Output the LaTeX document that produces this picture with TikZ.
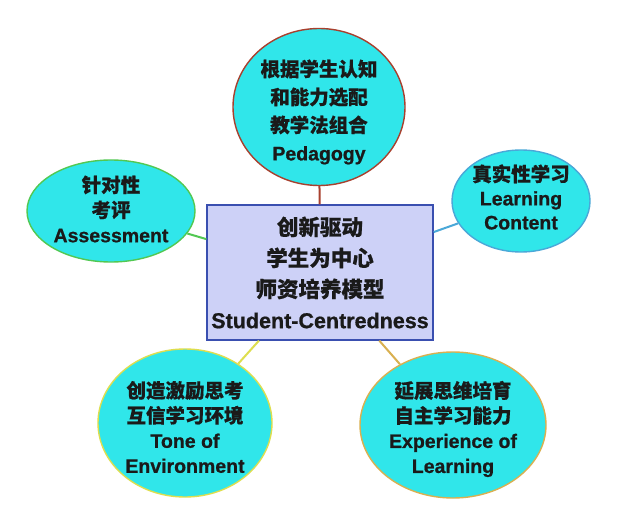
\documentclass[tikz,border=0pt]{standalone}
\usepackage{fontspec}
\setmainfont{Liberation Sans}[BoldFeatures={FakeBold=0.8}]
\newfontfamily\cjk{Noto Sans CJK SC}[BoldFeatures={FakeBold=0.6}]
\usetikzlibrary{shapes.geometric}
\newcommand{\zh}[1]{{\cjk\bfseries #1}}
\definecolor{cyanfill}{HTML}{30E6EA}
\definecolor{ctrfill}{HTML}{CDD1F7}
\definecolor{ctrdraw}{HTML}{3A4FB0}
\definecolor{pedc}{HTML}{A8402E}
\definecolor{asmc}{HTML}{52C852}
\definecolor{lrnc}{HTML}{4AA8D8}
\definecolor{tonc}{HTML}{DEDE4E}
\definecolor{expc}{HTML}{D9B050}
\definecolor{txt}{HTML}{1A1A1A}
\tikzset{
  bubble/.style={ellipse, fill=cyanfill, line width=1.4pt, inner sep=0pt},
  btext/.style={align=center, text=txt, inner sep=0pt, font=\fontsize{19.5}{25}\selectfont\bfseries},
  centerbox/.style={rectangle, fill=ctrfill, draw=ctrdraw, line width=1.3pt,
    minimum width=226pt, minimum height=135pt, inner sep=0pt,
    align=center, text=txt, font=\fontsize{21.5}{31}\selectfont\bfseries},
  link/.style={line width=2pt}
}
\begin{document}
\begin{tikzpicture}[x=1pt,y=-1pt]
\useasboundingbox[fill=white] (0,0) rectangle (620,529);
\node[centerbox] (ctr) at (320,272.5) {\zh{创新驱动}\\ \zh{学生为中心}\\ \zh{师资培养模型}\\ Student-Centredness};
\node[bubble, draw=pedc, minimum width=172pt, minimum height=157pt] (ped) at (319,107) {};
\node[bubble, draw=asmc, minimum width=168pt, minimum height=102pt] (asm) at (111,211) {};
\node[bubble, draw=lrnc, minimum width=138pt, minimum height=102pt] (lrn) at (521,201) {};
\node[bubble, draw=tonc, minimum width=174pt, minimum height=148pt] (ton) at (185,423) {};
\node[bubble, draw=expc, minimum width=186pt, minimum height=146pt] (exp) at (453,425) {};
\node[btext, font=\fontsize{19.5}{28}\selectfont\bfseries] (pedt) at (319,112)
  {\zh{根据学生认知}\\ \zh{和能力选配}\\ \zh{教学法组合}\\ Pedagogy};
\node[btext] (asmt) at (111,209) {\zh{针对性}\\ \zh{考评}\\ Assessment};
\node[btext, font=\fontsize{19.5}{24}\selectfont\bfseries] (lrnt) at (521,197) {\zh{真实性学习}\\ Learning\\ Content};
\node[btext] (tont) at (185,427) {\zh{创造激励思考}\\ \zh{互信学习环境}\\ Tone of\\ Environment};
\node[btext] (expt) at (453,429) {\zh{延展思维培育}\\ \zh{自主学习能力}\\ Experience of\\ Learning};
\draw[link, pedc] (ped) -- (ctr);
\draw[link, asmc] (asm) -- (ctr);
\draw[link, lrnc] (lrn) -- (ctr);
\draw[link, tonc] (ton) -- (ctr);
\draw[link, expc] (exp) -- (ctr);
\end{tikzpicture}
\end{document}
